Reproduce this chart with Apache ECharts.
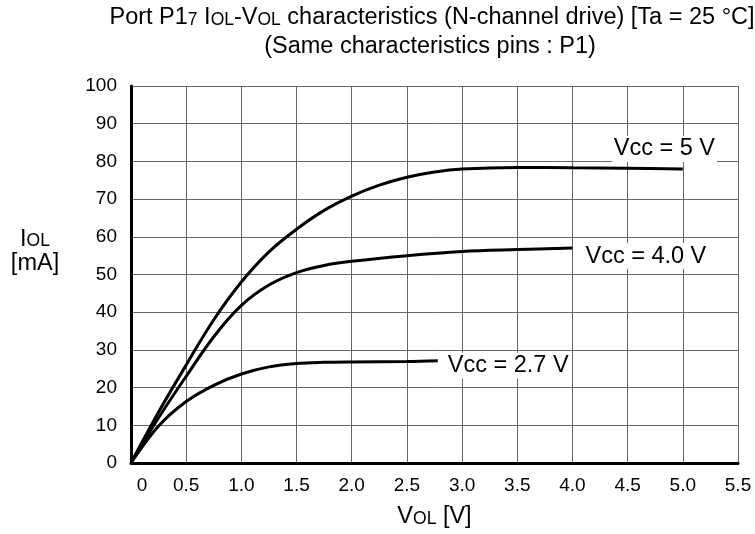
<!DOCTYPE html>
<html>
<head>
<meta charset="utf-8">
<script src="https://cdn.jsdelivr.net/npm/echarts@6/dist/echarts.min.js"></script>
<style>
html,body{margin:0;padding:0;background:#fff;}
#chart{width:755px;height:534px;}
</style>
</head>
<body>
<div id="chart"></div>
<script>
// Vcc = 5 V
const vol5 = [0, 0.25, 0.5, 0.75, 1.0, 1.25, 1.5, 1.75, 2.0, 2.25, 2.5, 2.75, 3.0, 3.5, 4.0, 4.5, 5.0];
const iol5 = [0, 13.5, 26, 38, 48, 56, 62, 67, 70.8, 73.7, 75.8, 77.2, 78, 78.4, 78.3, 78.2, 78];
// Vcc = 4.0 V
const vol4 = [0, 0.25, 0.5, 0.75, 1.0, 1.25, 1.5, 1.75, 2.0, 2.5, 3.0, 3.5, 4.0];
const iol4 = [0, 12, 23, 33.5, 41.8, 47.2, 50.5, 52.4, 53.5, 55, 56.1, 56.6, 57];
// Vcc = 2.7 V
const vol27 = [0, 0.25, 0.5, 0.75, 1.0, 1.25, 1.5, 1.75, 2.0, 2.5, 2.78];
const iol27 = [0, 9.8, 16.3, 20.6, 23.6, 25.5, 26.4, 26.7, 26.8, 26.9, 27.1];

const seriesNames = ['Vcc = 5 V', 'Vcc = 4.0 V', 'Vcc = 2.7 V'];
const xMin = 0, xMax = 5.5, xStep = 0.5;
const yMin = 0, yMax = 100, yStep = 10;

const FONT = 'Arial, "Liberation Sans", Helvetica, sans-serif';
const BIG = 23.5, SMALL = 17.5;
const pair = (xs, ys) => xs.map((x, i) => [x, ys[i]]);

const chart = echarts.init(document.getElementById('chart'), null, {renderer: 'canvas'});

const richTxt = {
  n: {fontFamily: FONT, fontSize: BIG, fontWeight: 'normal', color: '#000', verticalAlign: 'bottom'},
  s: {fontFamily: FONT, fontSize: SMALL, fontWeight: 'normal', color: '#000', verticalAlign: 'bottom', padding: [0, 0, 1, 0]}
};

const lineBase = {
  type: 'line',
  showSymbol: false,
  smooth: 0.35,
  lineStyle: {color: '#000', width: 3},
  itemStyle: {color: '#000'},
  emphasis: {disabled: true},
  silent: true
};
const labelBase = {
  show: true,
  distance: 8,
  fontFamily: FONT,
  fontSize: BIG,
  color: '#000',
  backgroundColor: '#fff',
  padding: [1, 2, 1, 2],
  align: 'left',
  verticalAlign: 'middle'
};

chart.setOption({
  animation: false,
  backgroundColor: '#fff',
  title: [
    {
      text: '{n|Port P1}{s|7}{n| I}{s|OL}{n|-V}{s|OL}{n| characteristics (N-channel drive) [Ta = 25 °C]}',
      left: 432, top: 6, padding: 0, textAlign: 'center',
      textStyle: {fontWeight: 'normal', rich: richTxt}
    },
    {
      text: '(Same characteristics pins : P1)',
      left: 430, top: 35, padding: 0, textAlign: 'center',
      textStyle: {fontFamily: FONT, fontSize: BIG, fontWeight: 'normal', color: '#000'}
    }
  ],
  grid: {left: 131, right: 17, top: 86, bottom: 69, containLabel: false},
  xAxis: {
    type: 'value', min: xMin, max: xMax, interval: xStep,
    name: '{n|V}{s|OL}{n| [V]}',
    nameLocation: 'middle', nameGap: 54,
    nameTextStyle: {verticalAlign: 'middle', rich: richTxt},
    axisLine: {show: true, onZero: false, lineStyle: {color: '#000', width: 3}},
    axisTick: {show: false},
    splitLine: {show: true, lineStyle: {color: '#666', width: 1}},
    axisLabel: {
      margin: 13, fontFamily: FONT, fontSize: 19, color: '#000',
      showMinLabel: true, showMaxLabel: true,
      formatter: v => v === 0 ? '{z|0}' : v.toFixed(1),
      rich: {z: {fontFamily: FONT, fontSize: 19, color: '#000', padding: [0, 0, 0, 22]}}
    }
  },
  yAxis: {
    type: 'value', min: yMin, max: yMax, interval: yStep,
    name: '{n|I}{s|OL}\n{n|[mA]}',
    nameLocation: 'middle', nameGap: 96, nameRotate: 0,
    nameTextStyle: {
      align: 'center', verticalAlign: 'middle', padding: [0, 0, 46, 0],
      lineHeight: 24,
      rich: {
        n: Object.assign({}, richTxt.n, {lineHeight: 24}),
        s: Object.assign({}, richTxt.s, {lineHeight: 24})
      }
    },
    axisLine: {show: true, onZero: false, lineStyle: {color: '#000', width: 3}},
    axisTick: {show: false},
    splitLine: {show: true, lineStyle: {color: '#666', width: 1}},
    axisLabel: {margin: 14, fontFamily: FONT, fontSize: 19, color: '#000'}
  },
  series: [
    Object.assign({}, lineBase, {
      name: seriesNames[0], data: pair(vol5, iol5),
      endLabel: Object.assign({}, labelBase, {formatter: seriesNames[0], offset: [-79, -20]})
    }),
    Object.assign({}, lineBase, {
      name: seriesNames[1], data: pair(vol4, iol4),
      endLabel: Object.assign({}, labelBase, {formatter: seriesNames[1], offset: [3, 8]})
    }),
    Object.assign({}, lineBase, {
      name: seriesNames[2], data: pair(vol27, iol27),
      endLabel: Object.assign({}, labelBase, {formatter: seriesNames[2], offset: [0, 5]})
    })
  ]
});
</script>
</body>
</html>
